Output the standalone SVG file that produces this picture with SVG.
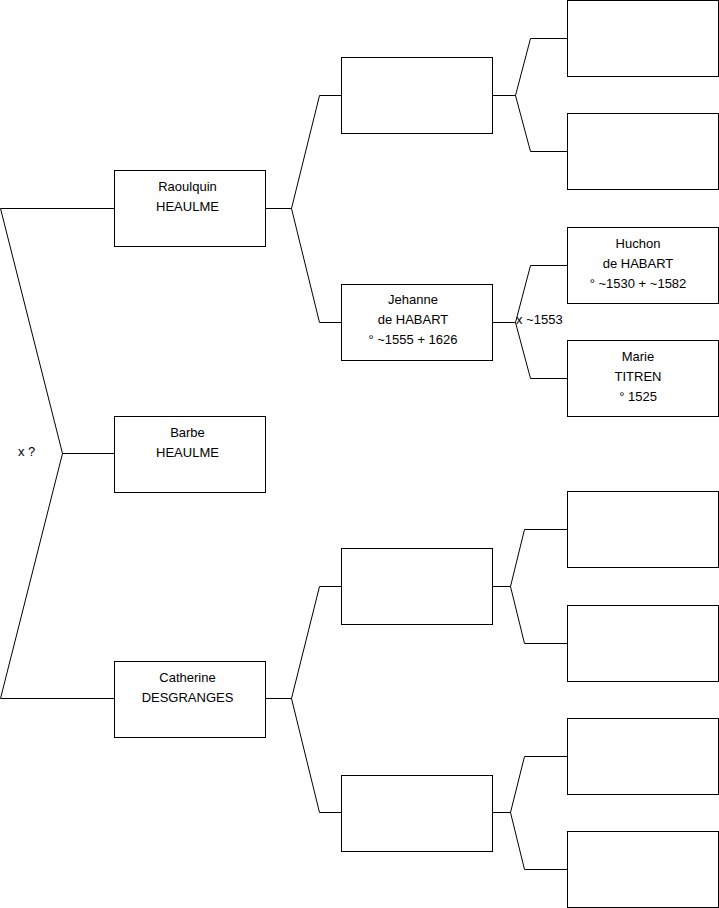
<svg xmlns="http://www.w3.org/2000/svg" width="719" height="908" viewBox="0 0 719 908">
<style>
.box{fill:#fff;stroke:#000;stroke-width:1}
.ln{fill:none;stroke:#000;stroke-width:1}
text{font-family:"Liberation Sans",Arial,sans-serif;font-size:13px;fill:#000}
.c{text-anchor:middle}
</style>
<rect width="719" height="908" fill="#fff"/>
<g id="connectors">
<path class="ln" d="M0.5,208.5H114 M0.5,208.5L62.5,453.5L0.5,698.5H114 M62.5,453.5H114"/>
<path class="ln" d="M265,208.5H291.5 M341,95.5H319.5L291.5,208.5L319.5,322.5H341"/>
<path class="ln" d="M265,698.5H291.5 M341,586.5H319.5L291.5,698.5L319.5,812.5H341"/>
<path class="ln" d="M492,95.5H515.5 M567,38.5H530.5L515.5,95.5L530.5,151.5H567"/>
<path class="ln" d="M492,322.5H515.5 M567,265.5H530.5L515.5,322.5L530.5,378.5H567"/>
<path class="ln" d="M492,586.5H510.5 M567,529.5H524.5L510.5,586.5L524.5,643.5H567"/>
<path class="ln" d="M492,812.5H510.5 M567,756.5H524.5L510.5,812.5L524.5,869.5H567"/>
<text x="18" y="456">x ?</text>
<text x="516" y="324">x ~1553</text>
</g>
<g id="raoulquin"><rect class="box" x="114.5" y="170.5" width="151" height="76"/><text class="c" x="187.5" y="191">Raoulquin</text><text class="c" x="187.5" y="211">HEAULME</text></g>
<g id="barbe"><rect class="box" x="114.5" y="416.5" width="151" height="76"/><text class="c" x="187.5" y="437">Barbe</text><text class="c" x="187.5" y="457">HEAULME</text></g>
<g id="catherine"><rect class="box" x="114.5" y="661.5" width="151" height="76"/><text class="c" x="187.5" y="682">Catherine</text><text class="c" x="187.5" y="702">DESGRANGES</text></g>
<g id="p1"><rect class="box" x="341.5" y="57.5" width="151" height="76"/></g>
<g id="jehanne"><rect class="box" x="341.5" y="284.5" width="151" height="76"/><text class="c" x="413" y="304">Jehanne</text><text class="c" x="413" y="324">de HABART</text><text class="c" x="413" y="344">° ~1555 + 1626</text></g>
<g id="p3"><rect class="box" x="341.5" y="548.5" width="151" height="76"/></g>
<g id="p4"><rect class="box" x="341.5" y="775.5" width="151" height="76"/></g>
<g id="g1"><rect class="box" x="567.5" y="0.5" width="151" height="76"/></g>
<g id="g2"><rect class="box" x="567.5" y="113.5" width="151" height="76"/></g>
<g id="huchon"><rect class="box" x="567.5" y="227.5" width="151" height="76"/><text class="c" x="638" y="248">Huchon</text><text class="c" x="638" y="268">de HABART</text><text class="c" x="638" y="288">° ~1530 + ~1582</text></g>
<g id="marie"><rect class="box" x="567.5" y="340.5" width="151" height="76"/><text class="c" x="638" y="361">Marie</text><text class="c" x="638" y="381">TITREN</text><text class="c" x="638" y="401">° 1525</text></g>
<g id="g5"><rect class="box" x="567.5" y="491.5" width="151" height="76"/></g>
<g id="g6"><rect class="box" x="567.5" y="605.5" width="151" height="76"/></g>
<g id="g7"><rect class="box" x="567.5" y="718.5" width="151" height="76"/></g>
<g id="g8"><rect class="box" x="567.5" y="831.5" width="151" height="76"/></g>
</svg>
